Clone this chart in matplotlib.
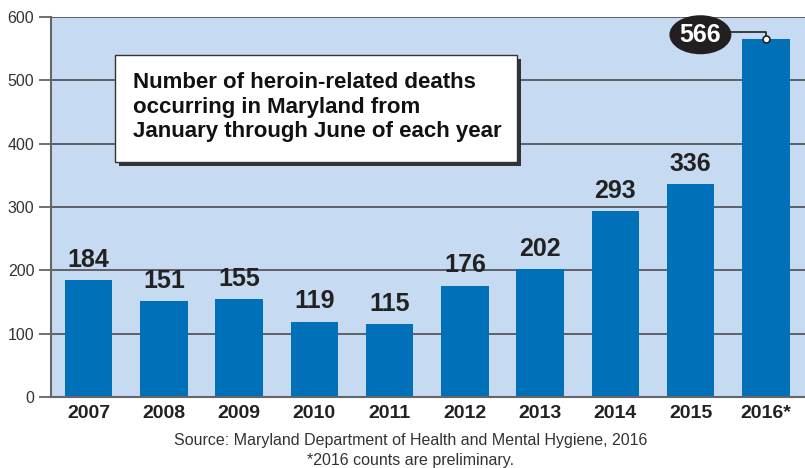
import matplotlib
matplotlib.use("Agg")
import matplotlib.pyplot as plt
from matplotlib.patches import Rectangle, Ellipse

years = ["2007", "2008", "2009", "2010", "2011", "2012", "2013", "2014", "2015", "2016*"]
deaths = [184, 151, 155, 119, 115, 176, 202, 293, 336, 566]
yticks = [0, 100, 200, 300, 400, 500, 600]

plt.rcParams['font.family'] = ['Liberation Sans', 'DejaVu Sans']

fig = plt.figure(figsize=(8.05, 4.68), dpi=100)
ax = fig.add_axes([51/805, 71/468, 754/805, 380/468])
ax.set_facecolor('#c6daf1')

x = list(range(len(years)))
ax.bar(x, deaths, width=0.63, color='#0070b9', zorder=3)
ax.set_xlim(-0.5, 9.52)
ax.set_ylim(0, 600)
ax.set_yticks(yticks)
ax.set_xticks(x)
ax.set_xticklabels(years, fontsize=14, fontweight='bold', color='#222222')
ax.tick_params(axis='x', length=0, pad=6)
ax.tick_params(axis='y', length=9, width=1.3, color='#666666', labelsize=11.5,
               labelcolor='#333333', pad=3)
ax.grid(axis='y', color='#55585c', linewidth=1.3, zorder=1)
ax.set_axisbelow(True)
for s in ['right', 'top']:
    ax.spines[s].set_visible(False)
ax.spines['left'].set_color('#666666')
ax.spines['left'].set_linewidth(1.5)
ax.spines['bottom'].set_color('#666666')
ax.spines['bottom'].set_linewidth(1.5)
ax.spines['bottom'].set_zorder(4)

for xi, v in zip(x[:-1], deaths[:-1]):
    ax.annotate(str(v), (xi, v), xytext=(0, 6), textcoords='offset points',
                ha='center', va='bottom', fontsize=18, fontweight='bold',
                color='#222222', zorder=5)

# highlighted last value
xl, vl = x[-1], deaths[-1]
ex, ey = 8.13, 572
ax.plot([ex + 0.3, xl, xl], [577, 577, vl], color='#222222', lw=1.2,
        zorder=5, clip_on=False)
ax.plot([xl], [vl], marker='o', ms=5, mfc='white', mec='#222222', mew=1.2,
        zorder=6, clip_on=False)
ell = Ellipse((ex, ey), width=62/75.3, height=39/0.6333, facecolor='#231f20',
              edgecolor='none', zorder=6, clip_on=False)
ax.add_patch(ell)
ax.text(ex, ey, str(vl), ha='center', va='center', fontsize=18,
        fontweight='bold', color='white', zorder=7)

# title box
bx0, by0, bw, bh = 115/805, (468-162)/468, 402/805, 107/468
fig.patches.append(Rectangle((bx0 + 4/805, by0 - 4/468), bw, bh,
                             transform=fig.transFigure, facecolor='#333333',
                             edgecolor='none', zorder=8))
fig.patches.append(Rectangle((bx0, by0), bw, bh, transform=fig.transFigure,
                             facecolor='white', edgecolor='#333333', lw=1,
                             zorder=9))
fig.text(133/805, (468-107)/468,
         "Number of heroin-related deaths\noccurring in Maryland from\nJanuary through June of each year",
         ha='left', va='center', fontsize=16, fontweight='bold',
         color='#111111', linespacing=1.2, zorder=10)

fig.text(411/805, (468-441)/468,
         "Source: Maryland Department of Health and Mental Hygiene, 2016",
         ha='center', va='center', fontsize=11.5, color='#333333')
fig.text(411/805, (468-461)/468, "*2016 counts are preliminary.",
         ha='center', va='center', fontsize=11.5, color='#333333')

fig.savefig('out.png', dpi=100)
